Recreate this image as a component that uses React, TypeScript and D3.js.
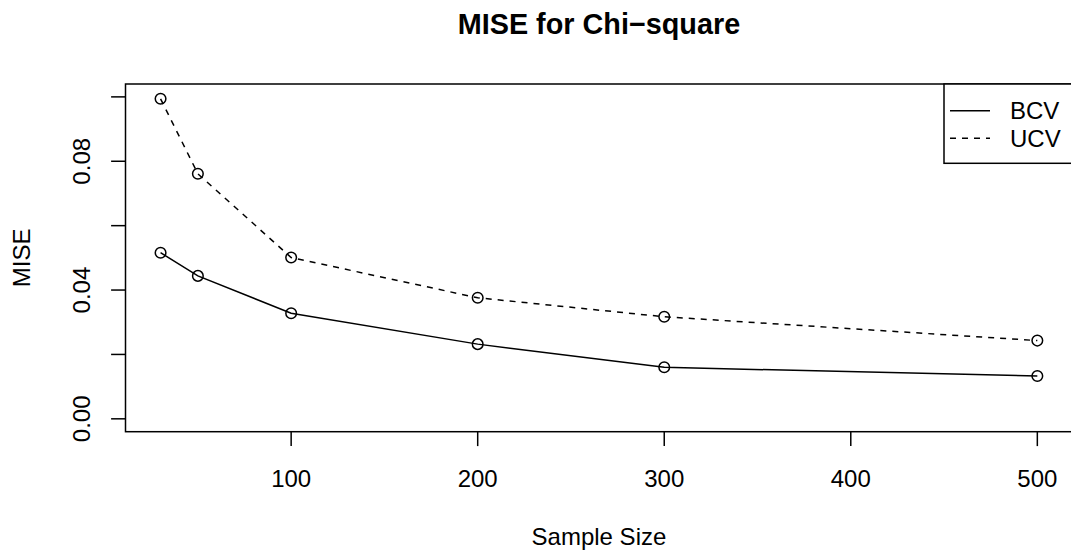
import React from "react";
import * as d3 from "d3";

const sampleSizes = [30, 50, 100, 200, 300, 500];
const bcvValues = [0.0516, 0.0444, 0.0328, 0.0232, 0.016, 0.0133];
const ucvValues = [0.0994, 0.0761, 0.0501, 0.0376, 0.0317, 0.0243];
const xTicks = [100, 200, 300, 400, 500];
const yTicks = [0, 0.02, 0.04, 0.06, 0.08, 0.1];
const yLabelTicks = [0, 0.04, 0.08];
const seriesNames = ["BCV", "UCV"];

const W = 1071;
const H = 555;
const FONT = "'Liberation Sans', Arial, Helvetica, sans-serif";

export default function App() {
  const left = 125.5;
  const right = 1072.4;
  const top = 84;
  const bottom = 431.7;

  const xs = d3.scaleLinear().domain([11.2, 518.8]).range([left, right]);
  const ys = d3.scaleLinear().domain([-0.004, 0.104]).range([bottom, top]);

  const line = d3
    .line<number>()
    .x((_, i) => xs(sampleSizes[i]))
    .y((d) => ys(d));

  const series = [
    { name: seriesNames[0], values: bcvValues, dash: undefined as string | undefined },
    { name: seriesNames[1], values: ucvValues, dash: "6,6" },
  ];

  const tickLen = 14.4;
  const lw = 1.5;

  return (
    <svg
      width={W}
      height={H}
      style={{ position: "absolute", left: 0, top: 0, background: "#fff" }}
      fontFamily={FONT}
    >
      <rect x={0} y={0} width={W} height={H} fill="#fff" />
      {/* title */}
      <text
        x={(left + right) / 2}
        y={34}
        textAnchor="middle"
        fontSize={28.8}
        fontWeight="bold"
      >
        MISE for Chi−square
      </text>

      {/* series */}
      {series.map((s) => (
        <g key={s.name}>
          <path
            d={line(s.values) || ""}
            fill="none"
            stroke="#000"
            strokeWidth={lw}
            strokeDasharray={s.dash}
          />
          {s.values.map((v, i) => (
            <circle
              key={i}
              cx={xs(sampleSizes[i])}
              cy={ys(v)}
              r={5.3}
              fill="none"
              stroke="#000"
              strokeWidth={lw}
            />
          ))}
        </g>
      ))}

      {/* box */}
      <rect
        x={left}
        y={top}
        width={right - left}
        height={bottom - top}
        fill="none"
        stroke="#000"
        strokeWidth={lw}
      />

      {/* x axis */}
      {xTicks.map((t) => (
        <g key={t}>
          <line
            x1={xs(t)}
            x2={xs(t)}
            y1={bottom}
            y2={bottom + tickLen}
            stroke="#000"
            strokeWidth={lw}
          />
          <text x={xs(t)} y={487} textAnchor="middle" fontSize={24}>
            {t}
          </text>
        </g>
      ))}
      <text x={(left + right) / 2} y={545} textAnchor="middle" fontSize={24}>
        Sample Size
      </text>

      {/* y axis */}
      {yTicks.map((t) => (
        <line
          key={t}
          x1={left - tickLen}
          x2={left}
          y1={ys(t)}
          y2={ys(t)}
          stroke="#000"
          strokeWidth={lw}
        />
      ))}
      {yLabelTicks.map((t) => (
        <text
          key={t}
          transform={`translate(89.5,${ys(t)}) rotate(-90)`}
          textAnchor="middle"
          fontSize={24}
        >
          {d3.format(".2f")(t)}
        </text>
      ))}
      <text
        transform={`translate(30,${(top + bottom) / 2}) rotate(-90)`}
        textAnchor="middle"
        fontSize={24}
      >
        MISE
      </text>

      {/* legend */}
      <rect
        x={944}
        y={top}
        width={right - 944}
        height={163.3 - top}
        fill="#fff"
        stroke="#000"
        strokeWidth={lw}
      />
      {series.map((s, i) => {
        const ly = 110.7 + i * 27.6;
        return (
          <g key={s.name}>
            <line
              x1={950}
              x2={990}
              y1={ly}
              y2={ly}
              stroke="#000"
              strokeWidth={lw}
              strokeDasharray={s.dash}
            />
            <text x={1010} y={ly + 8.6} fontSize={24}>
              {s.name}
            </text>
          </g>
        );
      })}
    </svg>
  );
}
